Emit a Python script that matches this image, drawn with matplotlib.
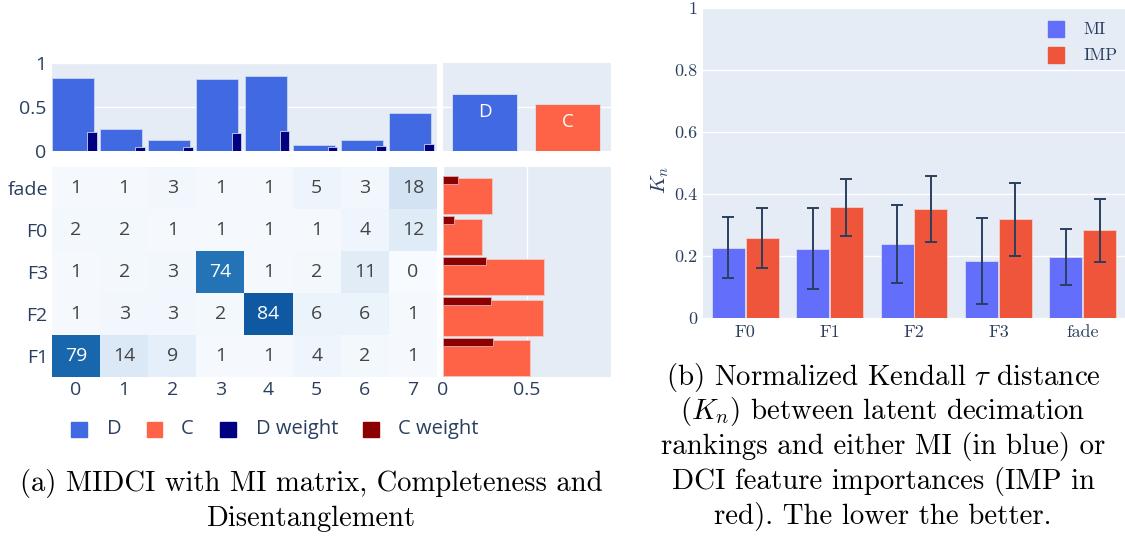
import matplotlib
matplotlib.use("Agg")
import matplotlib.pyplot as plt
import numpy as np
from matplotlib.patches import Rectangle

# MI matrix, rows bottom -> top
latents = list(range(8))
factors = ["F1", "F2", "F3", "F0", "fade"]
mi_matrix = [
    [79, 14, 9, 1, 1, 4, 2, 1],
    [1, 3, 3, 2, 84, 6, 6, 1],
    [1, 2, 3, 74, 1, 2, 11, 0],
    [2, 2, 1, 1, 1, 1, 4, 12],
    [1, 1, 3, 1, 1, 5, 3, 18],
]
d_score = [0.83, 0.25, 0.13, 0.82, 0.85, 0.065, 0.12, 0.43]
d_weight = [0.22, 0.045, 0.04, 0.20, 0.23, 0.04, 0.055, 0.075]
c_score = [0.52, 0.595, 0.60, 0.23, 0.29]
c_weight = [0.30, 0.285, 0.255, 0.065, 0.09]
dc_names = ["D", "C"]
dc_total = [0.65, 0.53]

# normalized kendall tau distances
kn_factors = ["F0", "F1", "F2", "F3", "fade"]
mi_kn = [0.227, 0.224, 0.239, 0.185, 0.197]
mi_err = [0.098, 0.132, 0.127, 0.139, 0.09]
imp_kn = [0.257, 0.357, 0.352, 0.318, 0.283]
imp_err = [0.097, 0.093, 0.107, 0.117, 0.101]

plt.rcParams["mathtext.fontset"] = "cm"
plt.rcParams["axes.formatter.use_mathtext"] = True

W, H = 1125, 539
BG = "#E5ECF6"
TXT = "#2a3f5f"
SANS = "Open Sans"
fig = plt.figure(figsize=(W / 100, H / 100), dpi=100)


def px_axes(x0, y0, x1, y1):
    ax = fig.add_axes([x0 / W, 1 - y1 / H, (x1 - x0) / W, (y1 - y0) / H])
    ax.set_facecolor(BG)
    for s in ax.spines.values():
        s.set_visible(False)
    ax.tick_params(length=0, colors=TXT)
    return ax


def legend_item(x, y, color, label, tx, family, size):
    # square of 15 px centred on y, label starting at tx
    fig.add_artist(Rectangle((x / W, 1 - (y + 7.5) / H), 15.5 / W, 15 / H, color=color,
                             transform=fig.transFigure))
    fig.text(tx / W, 1 - y / H, label, ha="left", va="center", color=TXT,
             family=family, fontsize=size)


# ---- top: D per latent
ax_top = px_axes(52, 63, 437, 151)
x = np.arange(len(latents))
ax_top.bar(x - 0.0625, d_score, width=0.875, color="royalblue", edgecolor="#c8d4f0", lw=0.6, zorder=2)
ax_top.bar(x + 0.33, d_weight, width=0.2, color="navy", edgecolor="#c8d4f0", lw=0.6, zorder=3)
ax_top.set_xlim(-0.5, 7.5)
ax_top.set_ylim(0, 1)
ax_top.set_xticks([])
ax_top.set_yticks([0, 0.5, 1], ["0", "0.5", "1"])
ax_top.grid(axis="y", color="white", lw=1, zorder=0)
for t in ax_top.get_yticklabels():
    t.set_fontfamily(SANS)
    t.set_fontsize(14)
ax_top.tick_params(axis="y", pad=4)

# ---- top right: total D and C
ax_dc = px_axes(443, 63, 611, 151)
ax_dc.bar(range(2), dc_total, width=0.78, color=["royalblue", "tomato"], edgecolor="#dde3f0", lw=0.6, zorder=2)
for i, v in enumerate(dc_total):
    ax_dc.text(i, v - 0.1, dc_names[i], ha="center", va="top", color="white",
               fontsize=13.5, family=SANS, zorder=3)
ax_dc.set_xlim(-0.5, 1.52)
ax_dc.set_ylim(0, 1)
ax_dc.set_xticks([])
ax_dc.set_yticks([0.5], [""])
ax_dc.grid(axis="y", color="white", lw=1, zorder=0)

# ---- heatmap
ax_hm = px_axes(52, 167, 437, 377)
ax_hm.imshow(mi_matrix, cmap="Blues", vmin=0, vmax=100, aspect="auto", origin="lower")
for r, row in enumerate(mi_matrix):
    for c, v in enumerate(row):
        ax_hm.text(c, r, str(v), ha="center", va="center", fontsize=14, family=SANS,
                   color="white" if v > 50 else "#444444")
ax_hm.set_xticks(x, [str(l) for l in latents])
ax_hm.set_yticks(range(len(factors)), factors)
for t in ax_hm.get_xticklabels() + ax_hm.get_yticklabels():
    t.set_fontfamily(SANS)
    t.set_fontsize(14)
ax_hm.tick_params(axis="both", pad=3)

# ---- right: C per factor
ax_c = px_axes(443, 167, 611, 377)
y = np.arange(len(factors))
ax_c.barh(y, c_score, height=0.89, color="tomato", edgecolor="#f0c8c0", lw=0.6, zorder=2)
ax_c.barh(y + 0.4, c_weight, height=0.2, color="darkred", edgecolor="#d9b0b0", lw=0.6, zorder=3)
ax_c.set_ylim(-0.47, 4.72)
ax_c.set_xlim(0, 1)
ax_c.set_yticks([])
ax_c.set_xticks([0, 0.5], ["0", "0.5"])
ax_c.grid(axis="x", color="white", lw=1, zorder=0)
for t in ax_c.get_xticklabels():
    t.set_fontfamily(SANS)
    t.set_fontsize(14)
ax_c.tick_params(axis="x", pad=3)

# legend of panel (a)
legend_item(71, 429, "royalblue", "D", 107, SANS, 14.5)
legend_item(147, 429, "tomato", "C", 181, SANS, 14.5)
legend_item(220, 429, "navy", "D weight", 256, SANS, 14.5)
legend_item(363, 429, "darkred", "C weight", 398, SANS, 14.5)

fig.text(311 / W, 1 - 483 / H, "(a) MIDCI with MI matrix, Completeness and",
         ha="center", va="center", family="cmr10", fontsize=20.6)
fig.text(311 / W, 1 - 519 / H, "Disentanglement",
         ha="center", va="center", family="cmr10", fontsize=20.6)

# ---- panel (b)
ax_b = px_axes(703, 8, 1125, 318)
xb = np.arange(len(kn_factors))
ekw = dict(ecolor=TXT, elinewidth=1.4, capsize=4.5, capthick=1.4)
ax_b.bar(xb - 0.2, mi_kn, width=0.39, yerr=mi_err, color="#636EFA", label="MI",
         edgecolor="#d6dcf5", lw=0.6, error_kw=ekw, zorder=2)
ax_b.bar(xb + 0.2, imp_kn, width=0.39, yerr=imp_err, color="#EF553B", label="IMP",
         edgecolor="#f0d0c8", lw=0.6, error_kw=ekw, zorder=2)
ax_b.set_xlim(-0.5, 4.5)
ax_b.set_ylim(0, 1)
ax_b.set_xticks(xb, kn_factors)
ax_b.set_yticks([0, 0.2, 0.4, 0.6, 0.8, 1], ["0", "0.2", "0.4", "0.6", "0.8", "1"])
ax_b.grid(axis="y", color="white", lw=1, zorder=0)
for t in ax_b.get_xticklabels() + ax_b.get_yticklabels():
    t.set_fontfamily("cmr10")
    t.set_fontsize(13)
ax_b.tick_params(axis="y", pad=4)
ax_b.tick_params(axis="x", pad=5)
legend_item(1048, 29, "#636EFA", "MI", 1083, "cmr10", 12.5)
legend_item(1048, 55, "#EF553B", "IMP", 1083, "cmr10", 12.5)
fig.text(660 / W, 1 - 180 / H, "$K_n$", rotation=90, ha="center", va="center",
         color=TXT, fontsize=15)

cap_b = ["(b) Normalized Kendall $\\tau$ distance",
         "$(K_n)$ between latent decimation",
         "rankings and either MI (in blue) or",
         "DCI feature importances (IMP in",
         "red). The lower the better."]
for i, line in enumerate(cap_b):
    fig.text(883 / W, 1 - (377 + 34.8 * i) / H, line, ha="center", va="center",
             family="cmr10", fontsize=20.8)

fig.savefig("out.png", dpi=100)
